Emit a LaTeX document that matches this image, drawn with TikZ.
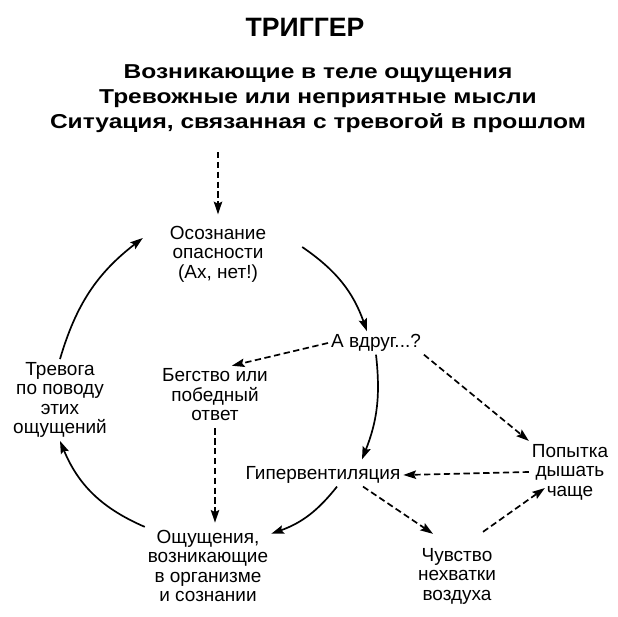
\documentclass[tikz,border=0pt]{standalone}
\usepackage{fontspec}
\setmainfont{Liberation Sans}
\newfontfamily\trigfont[FakeStretch=1.22]{Liberation Sans}
\usetikzlibrary{arrows.meta}

\begin{document}
\begin{tikzpicture}[x=0.025cm,y=0.025cm,
		lbl/.style={align=center,inner sep=2pt,font=\fontsize{13.5}{13.9}\selectfont},
		arr/.style={-{Stealth[length=9pt,width=6pt,inset=1.5pt]},line width=1.2pt},
		darr/.style={arr,dash pattern=on 4.5pt off 2.5pt}]
		\useasboundingbox (0,0) rectangle (618,617);
		\node (title) at (305,590) {\fontsize{18.9}{20}\selectfont\bfseries ТРИГГЕР};
		\node[align=center,font=\trigfont\bfseries\fontsize{14.3}{17.8}\selectfont] (trig) at (318,518) {Возникающие в теле ощущения\\Тревожные или неприятные мысли\\Ситуация, связанная с тревогой в прошлом};
		\node[lbl] (aware) at (218,363) {Осознание\\опасности\\(Ах, нет!)};
		\node[lbl] (tre) at (60,217) {Тревога\\по поводу\\этих\\ощущений};
		\node[lbl] (flee) at (215,222) {Бегство или\\победный\\ответ};
		\node[lbl] (what) at (376,274) {А вдруг...?};
		\node[lbl] (hyper) at (323,142) {Гипервентиляция};
		\node[lbl] (try) at (570,145) {Попытка\\дышать\\чаще};
		\node[lbl] (lack) at (457,41) {Чувство\\нехватки\\воздуха};
		\node[lbl] (sens) at (208,51) {Ощущения,\\возникающие\\в организме\\и сознании};
		\draw[darr,shorten <=10pt,shorten >=6pt] (trig.south -| aware.north) -- (aware.north);
		\draw[arr] (tre.north) to[bend left=18] ([shift={(-24,16)}]aware.west);
		\draw[arr] ([shift={(33,7)}]aware.east) to[bend left=18] ([shift={(-9,0)}]what.north);
		\draw[darr] (what.west) -- (flee.60);
		\draw[darr,shorten <=3pt,shorten >=3pt] (flee.south) -- (flee.south |- sens.north);
		\draw[arr] (what.south) to[bend left=14] ([shift={(39,4)}]hyper.north);
		\draw[darr] (what.south east) -- (try.north west);
		\draw[darr] (try.west) -- (hyper.east);
		\draw[arr] ([shift={(14,0)}]hyper.south) to[bend left=16] (sens.27);
		\draw[darr] ([shift={(40,0)}]hyper.south) -- ([shift={(-24,11)}]lack.north);
		\draw[darr] ([shift={(26,13)}]lack.north) -- ([shift={(16,15)}]try.south west);
		\draw[arr] (sens.north west) to[bend left=22] (tre.south);
	\end{tikzpicture}
\end{document}
